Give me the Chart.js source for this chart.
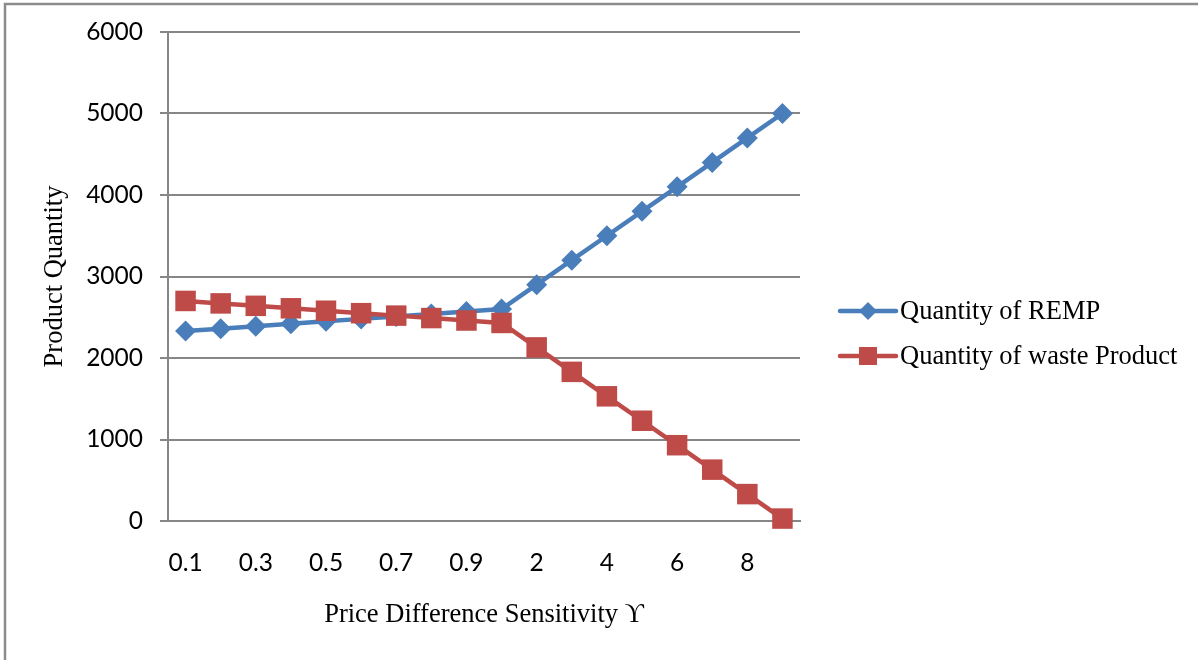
<!DOCTYPE html>
<html>
<head>
<meta charset="utf-8">
<script src="https://cdn.jsdelivr.net/npm/chart.js@4/dist/chart.umd.min.js"></script>
<style>
  html, body { margin: 0; padding: 0; background: #fff; }
  #wrap { width: 1198px; height: 660px; position: relative; }
</style>
</head>
<body>
<div id="wrap"><canvas id="grafica"></canvas></div>
<script>
// datos
const categorias = ['0.1', '0.2', '0.3', '0.4', '0.5', '0.6', '0.7', '0.8', '0.9', '1', '2', '3', '4', '5', '6', '7', '8', '9'];
const cantidadREMP = [2330, 2360, 2390, 2420, 2450, 2480, 2510, 2540, 2570, 2600, 2900, 3200, 3500, 3800, 4100, 4400, 4700, 5000];
const cantidadDesecho = [2700, 2670, 2640, 2610, 2580, 2550, 2520, 2490, 2460, 2430, 2130, 1830, 1530, 1230, 930, 630, 330, 30];
const ticksY = [0, 1000, 2000, 3000, 4000, 5000, 6000];

const azul = '#4A7EBB';
const rojo = '#BE4B48';
const serif = '"Liberation Serif", "Times New Roman", serif';
const sans = 'Lato, "Open Sans", sans-serif';

// marco gris de la figura (solo arriba e izquierda se ven)
const marco = {
  id: 'marco',
  beforeDraw(chart) {
    const c = chart.ctx;
    c.save();
    c.strokeStyle = '#8c8c8c';
    c.lineWidth = 2.5;
    c.strokeRect(5, 4, 1400, 900);
    c.restore();
  }
};

// leyenda a la derecha con linea + marcador
const leyenda = {
  id: 'leyenda',
  afterDraw(chart) {
    const c = chart.ctx;
    c.save();
    chart.data.datasets.forEach((ds, i) => {
      const y = 311 + i * 45;
      c.strokeStyle = ds.borderColor;
      c.lineWidth = 4.5;
      c.lineCap = 'round';
      c.beginPath();
      c.moveTo(840, y);
      c.lineTo(896, y);
      c.stroke();
      c.fillStyle = ds.pointBackgroundColor;
      c.beginPath();
      if (ds.pointStyle === 'rectRot') {
        const r = 9;
        c.moveTo(868, y - r); c.lineTo(868 + r, y); c.lineTo(868, y + r); c.lineTo(868 - r, y);
        c.closePath();
      } else {
        c.rect(868 - 9, y - 9, 18, 18);
      }
      c.fill();
      c.fillStyle = '#000';
      c.font = '26.5px ' + serif;
      c.textBaseline = 'middle';
      c.textAlign = 'left';
      c.fillText(ds.label, 900, y + 1);
    });
    c.restore();
  }
};

const ctx = document.getElementById('grafica').getContext('2d');

new Chart(ctx, {
  type: 'line',
  data: {
    labels: categorias,
    datasets: [{
      label: 'Quantity of REMP',
      data: cantidadREMP,
      borderColor: azul,
      backgroundColor: azul,
      pointBackgroundColor: azul,
      pointBorderColor: azul,
      pointStyle: 'rectRot',
      pointRadius: 10.5,
      pointBorderWidth: 0,
      borderWidth: 4.5,
      tension: 0,
      clip: false,
      order: 1
    }, {
      label: 'Quantity of waste Product',
      data: cantidadDesecho,
      borderColor: rojo,
      backgroundColor: rojo,
      pointBackgroundColor: rojo,
      pointBorderColor: rojo,
      pointStyle: 'rect',
      pointRadius: 14.5,
      pointBorderWidth: 0,
      borderWidth: 4.5,
      tension: 0,
      clip: false,
      order: 0
    }]
  },
  options: {
    responsive: true,
    maintainAspectRatio: false,
    animation: false,
    layout: { padding: { top: 32, right: 398, left: 0, bottom: 0 } },
    plugins: {
      legend: { display: false },
      tooltip: { enabled: false }
    },
    scales: {
      x: {
        offset: true,
        grid: { display: false, drawTicks: false },
        border: { display: true, color: '#868686', width: 2 },
        ticks: {
          autoSkip: false,
          maxRotation: 0,
          padding: 27,
          color: '#000',
          font: { family: sans, size: 24.5 },
          callback: (v, i) => (i % 2 === 0 ? categorias[i] : '')
        },
        title: {
          display: true,
          text: 'Price Difference Sensitivity ϒ',
          color: '#000',
          font: { family: serif, size: 26.5 },
          padding: { top: 0, bottom: 29 }
        },
        afterFit: s => { s.height = 139; }
      },
      y: {
        min: 0,
        max: 6000,
        afterBuildTicks: s => { s.ticks = ticksY.map(v => ({ value: v })); },
        grid: { color: '#868686', lineWidth: 2, tickLength: 8, drawTicks: true },
        border: { display: true, color: '#868686', width: 2 },
        ticks: {
          padding: 17,
          color: '#000',
          font: { family: sans, size: 24.5 },
          callback: v => String(v)
        },
        title: {
          display: true,
          text: 'Product Quantity',
          color: '#000',
          font: { family: serif, size: 26.5 },
          padding: { top: 39, bottom: 0 }
        },
        afterFit: s => { s.width = 168; }
      }
    }
  },
  plugins: [marco, leyenda]
});
</script>
</body>
</html>
